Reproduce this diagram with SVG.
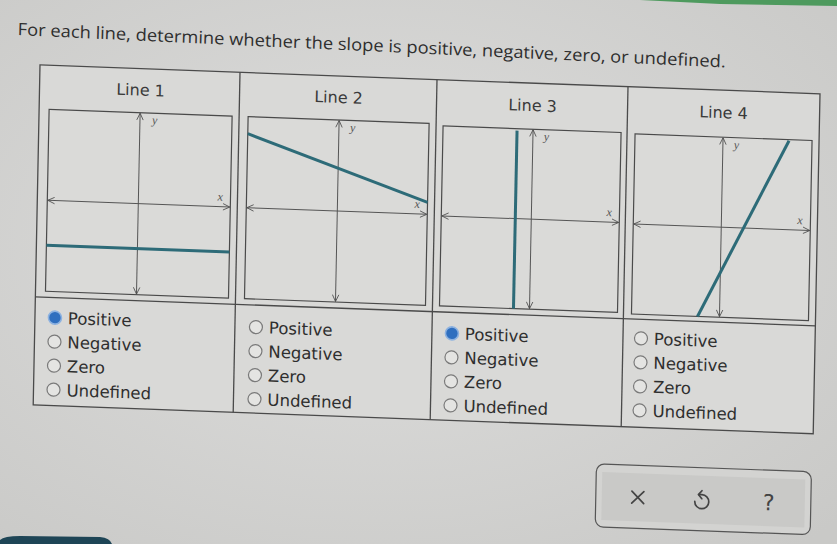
<svg xmlns="http://www.w3.org/2000/svg" width="837" height="544" viewBox="0 0 837 544">
<defs>
<radialGradient id="bg" cx="0.45" cy="0.45" r="0.75">
<stop offset="0" stop-color="#dededd"/>
<stop offset="1" stop-color="#c9c9c7"/>
</radialGradient>
<marker id="chev" viewBox="0 0 10 10" refX="9.5" refY="5" markerWidth="8" markerHeight="8" markerUnits="userSpaceOnUse" orient="auto-start-reverse">
<path d="M1,1 L9.5,5 L1,9" fill="none" stroke="#505050" stroke-width="1.1"/>
</marker>
<style>
.frame{fill:none;stroke:#4a4a4a;stroke-width:1.3}
.box{fill:#dadad8;stroke:#4a4a4a;stroke-width:1.2}
.axis{fill:none;stroke:#555;stroke-width:1;marker-start:url(#chev);marker-end:url(#chev)}
.ln{fill:none;stroke:#2d6b78;stroke-width:3}
.hdr{font-family:"DejaVu Sans",Verdana,sans-serif;font-size:16px;fill:#3a3a3a;text-anchor:middle}
.opt{font-family:"DejaVu Sans",Verdana,sans-serif;font-size:16.5px;fill:#2e2e2e}
.lab{font-family:"Liberation Serif","DejaVu Serif",serif;font-style:italic;font-size:12px;fill:#555}
.rb{fill:#e4e4e2;stroke:#7a7a7a;stroke-width:1.2}
.rs{fill:#2f6fbf;stroke:#8db2e0;stroke-width:1.6}
.title{font-family:"Open Sans","DejaVu Sans",sans-serif;font-size:17px;fill:#2e2e2e}
.icon{fill:none;stroke:#444;stroke-width:1.7;stroke-linecap:round;stroke-linejoin:round}
</style>
</defs>
<rect width="837" height="544" fill="url(#bg)"/>
<path d="M640,0 L837,0 L837,6 L720,4 Z" fill="#4e9a5e"/>
<path d="M0,544 L0,540 Q4,536 20,536 L100,537 Q110,538 112,544 Z" fill="#1e4556"/>
<g transform="matrix(1 0.037 -0.02 1 42 65)">
<text id="title" class="title" x="-25" y="-29" textLength="708" lengthAdjust="spacingAndGlyphs" transform="rotate(0.5 -25 -29)">For each line, determine whether the slope is positive, negative, zero, or undefined.</text>
<g id="table">
<rect x="-2" y="0" width="780" height="340" fill="#d9d9d7" stroke="none"/>
<rect class="frame" x="-2" y="0" width="780" height="340"/>
<line class="frame" x1="-2" y1="232" x2="778" y2="232"/>
<line class="frame" x1="198" y1="0" x2="198" y2="340"/>
<line class="frame" x1="395" y1="0" x2="395" y2="340"/>
<line class="frame" x1="586" y1="0" x2="586" y2="340"/>
</g>
<g id="line1">
<text class="hdr" x="99" y="27">Line 1</text>
<rect class="box" x="8" y="44" width="183" height="182"/>
<line class="axis" x1="8.5" y1="135" x2="190.5" y2="135"/>
<line class="axis" x1="99" y1="44.5" x2="99" y2="225.5"/>
<text class="lab" x="111" y="55">y</text>
<text class="lab" x="178" y="129">x</text>
<line class="ln" x1="8" y1="180" x2="191" y2="180"/>
<circle class="rs" cx="18" cy="252" r="6.5"/>
<text class="opt" x="31" y="258">Positive</text>
<circle class="rb" cx="18" cy="276" r="6.5"/>
<text class="opt" x="31" y="282">Negative</text>
<circle class="rb" cx="18" cy="300" r="6.5"/>
<text class="opt" x="31" y="306">Zero</text>
<circle class="rb" cx="18" cy="324" r="6.5"/>
<text class="opt" x="31" y="330">Undefined</text>
</g>
<g id="line2">
<text class="hdr" x="297" y="27">Line 2</text>
<rect class="box" x="207" y="44" width="181" height="182"/>
<line class="axis" x1="207.5" y1="135" x2="387.5" y2="135"/>
<line class="axis" x1="298" y1="44.5" x2="298" y2="225.5"/>
<text class="lab" x="309" y="55">y</text>
<text class="lab" x="375" y="129">x</text>
<line class="ln" x1="207" y1="61" x2="388" y2="123"/>
<circle class="rb" cx="219" cy="254" r="6.5"/>
<text class="opt" x="232" y="260">Positive</text>
<circle class="rb" cx="219" cy="278" r="6.5"/>
<text class="opt" x="232" y="284">Negative</text>
<circle class="rb" cx="219" cy="302" r="6.5"/>
<text class="opt" x="232" y="308">Zero</text>
<circle class="rb" cx="219" cy="326" r="6.5"/>
<text class="opt" x="232" y="332">Undefined</text>
</g>
<g id="line3">
<text class="hdr" x="491" y="28">Line 3</text>
<rect class="box" x="402" y="46" width="178" height="180"/>
<line class="axis" x1="402.5" y1="136" x2="579.5" y2="136"/>
<line class="axis" x1="492" y1="46.5" x2="492" y2="225.5"/>
<text class="lab" x="503" y="57">y</text>
<text class="lab" x="567" y="130">x</text>
<line class="ln" x1="476" y1="48" x2="476" y2="226"/>
<circle class="rs" cx="415" cy="253" r="6.5"/>
<text class="opt" x="428" y="259">Positive</text>
<circle class="rb" cx="415" cy="277" r="6.5"/>
<text class="opt" x="428" y="283">Negative</text>
<circle class="rb" cx="415" cy="301" r="6.5"/>
<text class="opt" x="428" y="307">Zero</text>
<circle class="rb" cx="415" cy="325" r="6.5"/>
<text class="opt" x="428" y="331">Undefined</text>
</g>
<g id="line4">
<text class="hdr" x="682" y="28">Line 4</text>
<rect class="box" x="594" y="47" width="177" height="180"/>
<line class="axis" x1="594.5" y1="137" x2="770.5" y2="137"/>
<line class="axis" x1="682" y1="47.5" x2="682" y2="226.5"/>
<text class="lab" x="693" y="58">y</text>
<text class="lab" x="758" y="131">x</text>
<line class="ln" x1="660" y1="227" x2="748" y2="48"/>
<circle class="rb" cx="604" cy="251" r="6.5"/>
<text class="opt" x="617" y="257">Positive</text>
<circle class="rb" cx="604" cy="275" r="6.5"/>
<text class="opt" x="617" y="281">Negative</text>
<circle class="rb" cx="604" cy="299" r="6.5"/>
<text class="opt" x="617" y="305">Zero</text>
<circle class="rb" cx="604" cy="323" r="6.5"/>
<text class="opt" x="617" y="329">Undefined</text>
</g>
<g id="buttons">
<rect x="562" y="378" width="215" height="63" rx="8" fill="#d3d3d1" stroke="#555" stroke-width="1.2"/>
<rect x="568" y="386" width="203" height="48" fill="#c9c9c7"/>
<path class="icon" d="M598,404 L610,416 M610,404 L598,416"/>
<path class="icon" d="M665,405 L668,405 A7 7 0 1 1 661,412"/>
<path class="icon" d="M668,401 L664.5,405 L668,409"/>
<text x="735" y="418" font-family="DejaVu Sans,sans-serif" font-size="22" fill="#444" text-anchor="middle">?</text>
</g>
</g>
</svg>
